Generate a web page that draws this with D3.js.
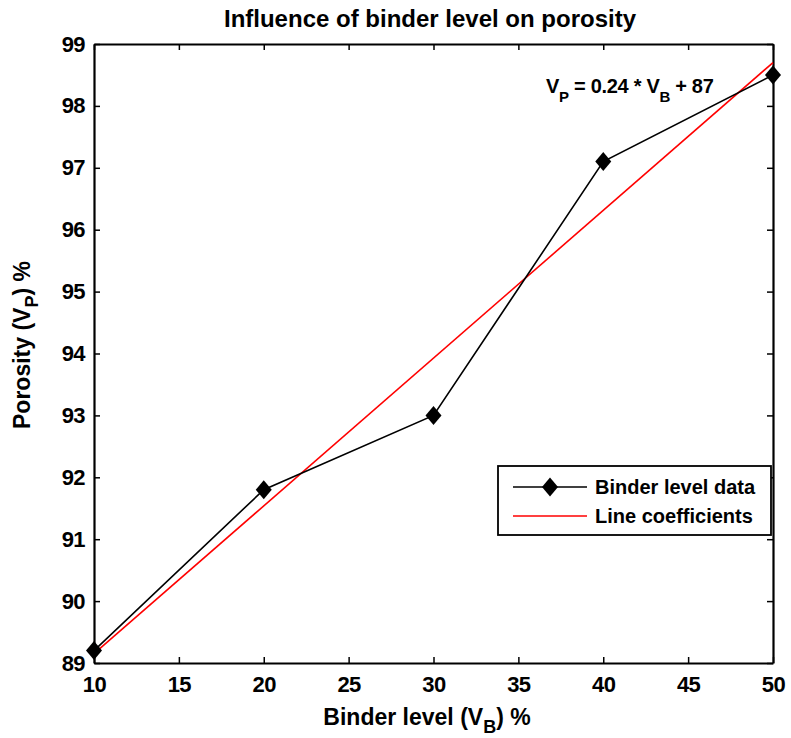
<!DOCTYPE html>
<html>
<head>
<meta charset="utf-8">
<script src="https://cdn.jsdelivr.net/npm/d3@7"></script>
<style>
  body { margin: 0; background: #fff; }
  text { font-family: "Liberation Sans", Arial, sans-serif; font-weight: bold; fill: #000; }
</style>
</head>
<body>
<svg id="figure"></svg>
<script>
var binderLevel = [10, 20, 30, 40, 50];
var porosity    = [89.2, 91.8, 93.0, 97.1, 98.5];

// fitted line end points
var fitX = [10, 50];
var fitY = [89.15, 98.7];

var xTicks = [10, 15, 20, 25, 30, 35, 40, 45, 50];
var yTicks = [89, 90, 91, 92, 93, 94, 95, 96, 97, 98, 99];

var fullWidth = 791, fullHeight = 738;
var margin = { top: 44, bottom: 75, left: 94, right: 18 };
var width  = fullWidth - margin.left - margin.right;
var height = fullHeight - margin.top - margin.bottom;

var svg = d3.select("#figure")
    .attr("width", fullWidth)
    .attr("height", fullHeight);

var g = svg.append("g")
    .attr("transform", "translate(" + margin.left + "," + margin.top + ")");

var xRange = d3.scaleLinear().domain([10, 50]).range([0, width]);
var yRange = d3.scaleLinear().domain([89, 99]).range([height, 0]);

// axes: ticks point inward on all four sides
var tickFont = "22px";
var axBottom = g.append("g").attr("transform", "translate(0," + height + ")")
    .call(d3.axisBottom(xRange).tickValues(xTicks).tickSizeInner(-6).tickSizeOuter(0).tickPadding(13).tickFormat(d3.format("d")));
var axLeft = g.append("g")
    .call(d3.axisLeft(yRange).tickValues(yTicks).tickSizeInner(-6).tickSizeOuter(0).tickPadding(9).tickFormat(d3.format("d")));
var axTop = g.append("g")
    .call(d3.axisTop(xRange).tickValues(xTicks).tickSizeInner(-6).tickSizeOuter(0).tickFormat(""));
var axRight = g.append("g").attr("transform", "translate(" + width + ",0)")
    .call(d3.axisRight(yRange).tickValues(yTicks).tickSizeInner(-6).tickSizeOuter(0).tickFormat(""));

[axBottom, axLeft, axTop, axRight].forEach(function (a) {
    a.select(".domain").attr("stroke", "#000").attr("stroke-width", 2.2);
    a.selectAll(".tick line").attr("stroke", "#000").attr("stroke-width", 1.5);
    a.selectAll("text").style("font-size", tickFont).style("letter-spacing", "-0.6px").attr("fill", "#000");
});

// fitted line
var line = d3.line()
    .x(function (d) { return xRange(d[0]); })
    .y(function (d) { return yRange(d[1]); });

g.append("path")
    .attr("d", line(d3.zip(fitX, fitY)))
    .attr("fill", "none").attr("stroke", "rgb(255,0,0)").attr("stroke-width", 1.6);

// data line with diamonds
var pts = d3.zip(binderLevel, porosity);
g.append("path")
    .attr("d", line(pts))
    .attr("fill", "none").attr("stroke", "#000").attr("stroke-width", 1.6);

function diamond(cx, cy) {
    var w = 8, h = 9.5;
    return "M" + cx + "," + (cy - h) + "L" + (cx + w) + "," + cy + "L" + cx + "," + (cy + h) + "L" + (cx - w) + "," + cy + "Z";
}
g.selectAll(".marker").data(pts).enter().append("path")
    .attr("class", "marker")
    .attr("d", function (d) { return diamond(xRange(d[0]), yRange(d[1])); })
    .attr("fill", "#000");

// equation
var eq = svg.append("text")
    .attr("x", 546).attr("y", 93)
    .style("font-size", "20px").style("letter-spacing", "-0.3px");
eq.append("tspan").text("V");
eq.append("tspan").text("P").attr("dy", 9).style("font-size", "15px");
eq.append("tspan").text(" = 0.24 * V").attr("dy", -9);
eq.append("tspan").text("B").attr("dy", 9).style("font-size", "15px");
eq.append("tspan").text(" + 87").attr("dy", -9);

// legend
var lg = svg.append("g").attr("transform", "translate(498,466)");
lg.append("rect").attr("width", 273).attr("height", 69)
    .attr("fill", "#fff").attr("stroke", "#000").attr("stroke-width", 1.8);
lg.append("line").attr("x1", 15).attr("x2", 89).attr("y1", 21).attr("y2", 21)
    .attr("stroke", "#000").attr("stroke-width", 1.6);
lg.append("path").attr("d", diamond(52, 21)).attr("fill", "#000");
lg.append("line").attr("x1", 15).attr("x2", 89).attr("y1", 50).attr("y2", 50)
    .attr("stroke", "rgb(255,0,0)").attr("stroke-width", 1.6);
lg.append("text").attr("x", 97).attr("y", 28).style("font-size", "20px").text("Binder level data");
lg.append("text").attr("x", 97).attr("y", 57).style("font-size", "20px").text("Line coefficients");

// title
svg.append("text")
    .attr("x", 430).attr("y", 27)
    .attr("text-anchor", "middle").style("font-size", "24px")
    .text("Influence of binder level on porosity");

// x label
var xl = svg.append("text")
    .attr("x", 427).attr("y", 725)
    .attr("text-anchor", "middle").style("font-size", "23px");
xl.append("tspan").text("Binder level (V");
xl.append("tspan").text("B").attr("dy", 8).style("font-size", "18px");
xl.append("tspan").text(") %").attr("dy", -8);

// y label
var yl = svg.append("text")
    .attr("transform", "translate(30,345) rotate(-90)")
    .attr("text-anchor", "middle").style("font-size", "23px");
yl.append("tspan").text("Porosity (V");
yl.append("tspan").text("P").attr("dy", 8).style("font-size", "18px");
yl.append("tspan").text(") %").attr("dy", -8);
</script>
</body>
</html>
